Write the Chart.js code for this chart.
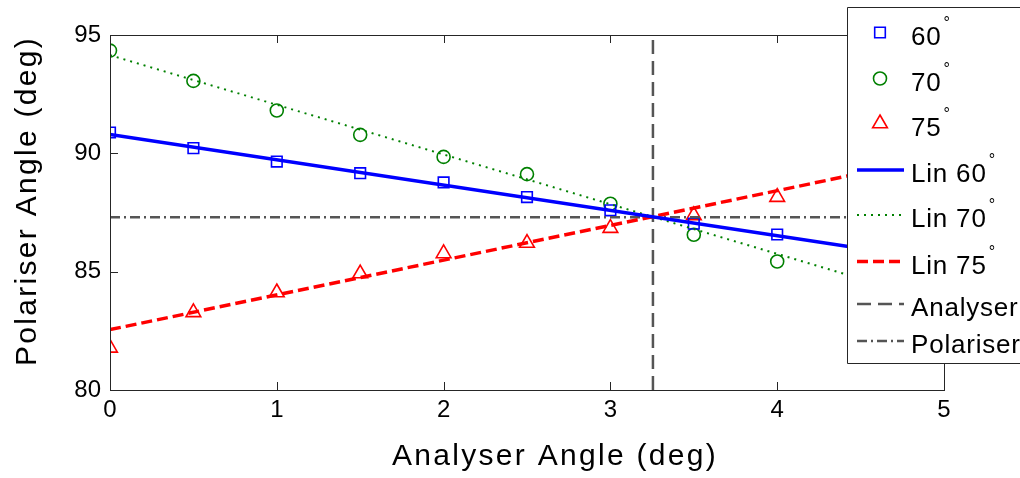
<!DOCTYPE html>
<html>
<head>
<meta charset="utf-8">
<script src="https://cdn.jsdelivr.net/npm/chart.js@4"></script>
<style>
body { margin: 0; background: #fff; }
</style>
</head>
<body>
<canvas id="grafico" width="1020" height="478"></canvas>
<script>
// dati
const analyserAngles = [0, 0.5, 1, 1.5, 2, 2.5, 3, 3.5, 4];
const polariser60 = [90.88, 90.22, 89.65, 89.16, 88.77, 88.15, 87.59, 87.03, 86.57];
const polariser70 = [94.34, 93.06, 91.81, 90.78, 89.85, 89.12, 87.87, 86.56, 85.43];
const polariser75 = [81.78, 83.28, 84.12, 84.92, 85.77, 86.21, 86.84, 87.38, 88.15];
const fitX = [0, 5];
const lin60 = [90.8, 85.45];
const lin70 = [94.15, 83.65];
const lin75 = [82.55, 89.89];
const analyserAngle = 3.255;
const polariserAngle = 87.3;
const xTicks = [0, 1, 2, 3, 4, 5];
const yTicks = [80, 85, 90, 95];
const labels = ["60°", "70°", "75°", "Lin 60°", "Lin 70°", "Lin 75°", "Analyser", "Polariser"];

const FONT = "'Liberation Sans', Arial, sans-serif";

function punti(xs, ys) {
    return xs.map((x, i) => ({ x: x, y: ys[i] }));
}

// marcatori vuoti
function serieMarker(label, dati, colore, stile, raggio) {
    return {
        label: label, data: punti(analyserAngles, dati), showLine: false,
        pointStyle: stile, pointRadius: raggio, borderColor: colore,
        backgroundColor: 'rgba(0,0,0,0)', pointBorderWidth: 1.6, order: 1
    };
}

// rette di fit e linee di riferimento
function serieLinea(label, dati, colore, spessore, tratteggio) {
    return {
        label: label, data: dati, showLine: true, pointRadius: 0,
        borderColor: colore, borderWidth: spessore, borderDash: tratteggio, order: 0
    };
}

const datasets = [
    serieMarker(labels[0], polariser60, '#0000ff', 'rect', 7.5),
    serieMarker(labels[1], polariser70, '#008000', 'circle', 6.5),
    serieMarker(labels[2], polariser75, '#ff0000', 'triangle', 8.5),
    serieLinea(labels[3], punti(fitX, lin60), '#0000ff', 3.5, []),
    serieLinea(labels[4], punti(fitX, lin70), '#008000', 2, [2, 5]),
    serieLinea(labels[5], punti(fitX, lin75), '#ff0000', 3.5, [11, 5]),
    serieLinea(labels[6], punti([analyserAngle, analyserAngle], [80, 95]), '#555555', 2.5, [14, 7]),
    serieLinea(labels[7], punti(fitX, [polariserAngle, polariserAngle]), '#555555', 2.5, [10, 4, 2, 4])
];

// testo con il simbolo di grado in apice
function testoGrado(ctx, testo, x, y) {
    let base = testo.replace('°', '');
    ctx.font = '26px ' + FONT;
    ctx.letterSpacing = '0.8px';
    ctx.fillText(base, x, y);
    if (testo.includes('°')) {
        let w = ctx.measureText(base).width;
        ctx.font = '16px ' + FONT;
        ctx.letterSpacing = '0px';
        ctx.fillText('°', x + w + 2, y - 17);
    }
    ctx.letterSpacing = '0px';
}

// cornice degli assi con le tacche verso l'interno, e titoli
const cornice = {
    id: 'cornice',
    afterDatasetsDraw(chart) {
        const ctx = chart.ctx;
        const a = chart.chartArea;
        const sx = chart.scales.x, sy = chart.scales.y;
        ctx.save();
        ctx.strokeStyle = '#262626';
        ctx.lineWidth = 1;
        ctx.setLineDash([]);
        ctx.strokeRect(a.left + 0.5, a.top + 0.5, a.right - a.left, a.bottom - a.top);
        ctx.beginPath();
        xTicks.forEach(v => {
            let px = Math.round(sx.getPixelForValue(v)) + 0.5;
            ctx.moveTo(px, a.bottom); ctx.lineTo(px, a.bottom - 8);
            ctx.moveTo(px, a.top); ctx.lineTo(px, a.top + 8);
        });
        yTicks.forEach(v => {
            let py = Math.round(sy.getPixelForValue(v)) + 0.5;
            ctx.moveTo(a.left, py); ctx.lineTo(a.left + 8, py);
            ctx.moveTo(a.right, py); ctx.lineTo(a.right - 8, py);
        });
        ctx.stroke();

        ctx.fillStyle = '#000';
        ctx.font = '30px ' + FONT;
        ctx.letterSpacing = '2.3px';
        ctx.textAlign = 'center';
        ctx.textBaseline = 'alphabetic';
        ctx.fillText('Analyser Angle (deg)', 555, 465);
        ctx.translate(36, 201);
        ctx.rotate(-Math.PI / 2);
        ctx.fillText('Polariser Angle (deg)', 0, 0);
        ctx.letterSpacing = '0px';
        ctx.restore();
    }
};

// legenda sopra il grafico, con il bordo destro fuori dalla tela
const legenda = {
    id: 'legenda',
    afterDraw(chart) {
        const ctx = chart.ctx;
        const righe = [32.5, 78.5, 123.5, 170, 215, 261.5, 304, 341];
        ctx.save();
        ctx.setLineDash([]);
        ctx.beginPath();
        ctx.rect(847.5, 7.5, 190, 356);
        ctx.fillStyle = '#ffffff';
        ctx.fill();
        ctx.strokeStyle = '#262626';
        ctx.lineWidth = 1;
        ctx.stroke();
        ctx.textAlign = 'left';
        ctx.textBaseline = 'alphabetic';
        chart.data.datasets.forEach((ds, i) => {
            let y = righe[i];
            if (ds.showLine) {
                ctx.strokeStyle = ds.borderColor;
                ctx.lineWidth = ds.borderWidth;
                ctx.setLineDash(ds.borderDash);
                ctx.beginPath();
                ctx.moveTo(857, y); ctx.lineTo(904, y);
                ctx.stroke();
                ctx.setLineDash([]);
            } else {
                ctx.fillStyle = 'rgba(0,0,0,0)';
                ctx.strokeStyle = ds.borderColor;
                ctx.lineWidth = ds.pointBorderWidth;
                Chart.helpers.drawPoint(ctx, {
                    pointStyle: ds.pointStyle, radius: ds.pointRadius, rotation: 0,
                    borderWidth: ds.pointBorderWidth
                }, 880, y);
            }
            ctx.fillStyle = '#000';
            testoGrado(ctx, ds.label, 911, y + 12);
        });
        ctx.restore();
    }
};

const fontTick = { family: FONT, size: 24 };

new Chart(document.getElementById('grafico'), {
    type: 'scatter',
    data: { datasets: datasets },
    options: {
        responsive: false,
        animation: false,
        layout: { padding: { top: 35, right: 76, left: 0, bottom: 0 } },
        plugins: { legend: { display: false }, tooltip: { enabled: false } },
        scales: {
            x: {
                type: 'linear', min: 0, max: 5,
                grid: { display: false, drawTicks: false },
                border: { display: false },
                afterFit: s => { s.height = 88; },
                afterBuildTicks: s => { s.ticks = xTicks.map(v => ({ value: v })); },
                ticks: { color: '#000', font: fontTick, padding: 6, maxRotation: 0 }
            },
            y: {
                type: 'linear', min: 80, max: 95,
                grid: { display: false, drawTicks: false },
                border: { display: false },
                afterFit: s => { s.width = 110; },
                afterBuildTicks: s => { s.ticks = yTicks.map(v => ({ value: v })); },
                ticks: { color: '#000', font: fontTick, padding: 9 }
            }
        }
    },
    plugins: [cornice, legenda]
});
</script>
</body>
</html>
